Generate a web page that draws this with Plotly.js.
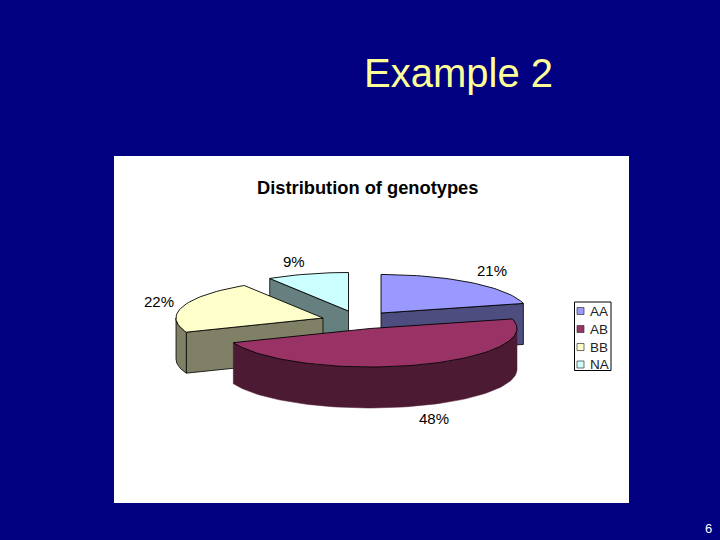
<!DOCTYPE html>
<html><head><meta charset="utf-8">
<script src="https://cdn.plot.ly/plotly-3.0.1.min.js"></script>
<style>html,body{margin:0;padding:0;background:#000080}#chart{width:720px;height:540px}</style>
</head><body><div id="chart"></div>
<script>
// ---- data ----
const categories = ["AA", "AB", "BB", "NA"];
const shares = [21, 48, 22, 9];
const pctLabels = ["21%", "48%", "22%", "9%"];
// ---- style ----
const topColors = ["#9999ff", "#993366", "#ffffcc", "#ccffff"];
const wallColors = ["#4d4d80", "#4d1a33", "#808066", "#668080"];
// ---- layout of the exploded 3-D pie (pixels) ----
const apexX = [381, 370, 323, 348.5];
const apexY = [313, 328.5, 318, 311];
const labelX = [492, 433.5, 159, 294];
const labelY = [270, 418, 301, 261];
const rx = 147, ry = 38.5, depth = 41;
const drawOrder = [0, 3, 2, 1];

const total = shares.reduce((a, b) => a + b, 0);
const traces = [];
function rim(i, a0, a1, dz) {
  const pts = [];
  const n = Math.max(2, Math.ceil(Math.abs(a1 - a0) / 2));
  for (let k = 0; k <= n; k++) {
    const a = (a0 + (a1 - a0) * k / n) * Math.PI / 180;
    pts.push([apexX[i] + rx * Math.sin(a), apexY[i] - ry * Math.cos(a) + dz]);
  }
  return pts;
}
function poly(pts, fill, lineW) {
  traces.push({
    type: "scatter", mode: "lines", hoverinfo: "skip", showlegend: false,
    x: pts.map(p => p[0]).concat(pts[0][0]), y: pts.map(p => p[1]).concat(pts[0][1]),
    fill: "toself", fillcolor: fill,
    line: { color: lineW ? "#000000" : fill, width: lineW || 0.5 }
  });
}
const starts = []; let acc = 0;
shares.forEach(v => { starts.push(acc / total * 360); acc += v; });

drawOrder.forEach(i => {
  const a0 = starts[i], a1 = a0 + shares[i] / total * 360;
  const ap = [apexX[i], apexY[i]], apB = [apexX[i], apexY[i] + depth];
  // cut faces that look towards the viewer
  if (a1 < 180) {              // end edge on the right side
    const e = rim(i, a1, a1, 0)[0];
    poly([ap, e, [e[0], e[1] + depth], apB], wallColors[i], 0.8);
  }
  if (a0 > 180) {              // start edge on the left side
    const s = rim(i, a0, a0, 0)[0];
    poly([ap, s, [s[0], s[1] + depth], apB], wallColors[i], 0.8);
  }
  // outer wall, front half only
  const w0 = Math.max(a0, 90), w1 = Math.min(a1, 270);
  if (w1 > w0) {
    poly(rim(i, w0, w1, 0).concat(rim(i, w1, w0, depth)), wallColors[i], i === 1 ? 0 : 0.8);
  }
  // top face
  poly([ap].concat(rim(i, a0, a1, 0)), topColors[i], 0.9);
});

const font = "Liberation Sans, Arial, sans-serif";
const annotations = [
  { x: 458.5, y: 73, text: "Example 2", font: { family: font, size: 40, color: "#ffff99" } },
  { x: 367, y: 187, text: "<b>Distribution of genotypes</b>", font: { family: font, size: 18.3, color: "#000000" } },
  { x: 708, y: 528, text: "6", font: { family: font, size: 13, color: "#ffffff" } }
];
pctLabels.forEach((t, i) => annotations.push({ x: labelX[i], y: labelY[i], text: t, font: { family: font, size: 15, color: "#000000" } }));

const legendRows = [311, 329, 347, 364.5];
const shapes = [
  { type: "rect", layer: "below", x0: 114, x1: 629, y0: 156, y1: 503, fillcolor: "#ffffff", line: { width: 0 } },
  { type: "rect", layer: "below", x0: 574.5, x1: 611, y0: 302, y1: 370.5, fillcolor: "#ffffff", line: { color: "#000000", width: 1 } }
];
categories.forEach((c, i) => {
  shapes.push({ type: "rect", x0: 577, x1: 584, y0: legendRows[i] - 3.5, y1: legendRows[i] + 3.5, fillcolor: topColors[i], line: { color: "#333333", width: 0.7 } });
  annotations.push({ x: 588.5, y: legendRows[i], xanchor: "left", text: c, font: { family: font, size: 13.5, color: "#222222" } });
});
annotations.forEach(a => { a.showarrow = false; a.xref = "x"; a.yref = "y"; a.borderpad = 0; });

const hidden = { visible: false, fixedrange: true };
Plotly.newPlot("chart", traces, {
  width: 720, height: 540, margin: { l: 0, r: 0, t: 0, b: 0 },
  paper_bgcolor: "#000080", plot_bgcolor: "#000080", showlegend: false,
  xaxis: Object.assign({ range: [0, 720] }, hidden),
  yaxis: Object.assign({ range: [540, 0] }, hidden),
  shapes, annotations
}, { displayModeBar: false, staticPlot: true });
</script></body></html>
